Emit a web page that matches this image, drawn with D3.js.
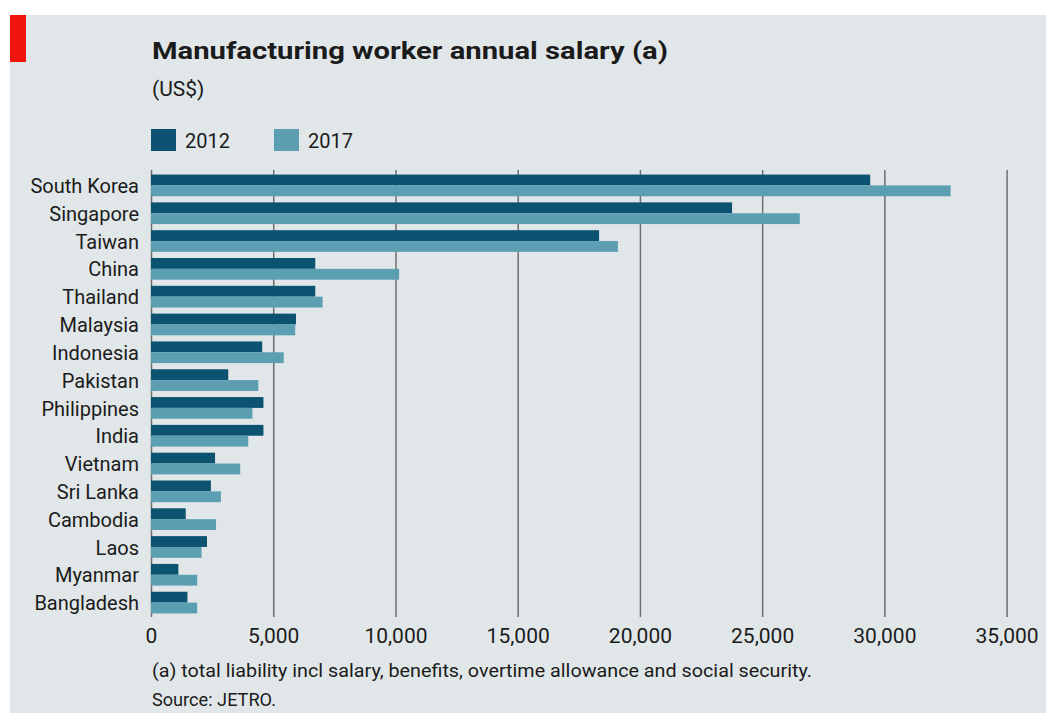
<!DOCTYPE html>
<html>
<head>
<meta charset="utf-8">
<script src="https://cdn.jsdelivr.net/npm/d3@7"></script>
<style>
  html, body { margin: 0; padding: 0; background: #ffffff; }
  svg { display: block; }
  text { font-family: Roboto, "Open Sans", sans-serif; fill: #1b1b1b; }
</style>
</head>
<body>
<svg id="chart" width="1046" height="713"></svg>
<script>
// Manufacturing worker annual salary, US$ (source: JETRO)
const countries = ["South Korea", "Singapore", "Taiwan", "China", "Thailand", "Malaysia",
  "Indonesia", "Pakistan", "Philippines", "India", "Vietnam", "Sri Lanka",
  "Cambodia", "Laos", "Myanmar", "Bangladesh"];
const salary2012 = [29420, 23770, 18330, 6720, 6720, 5930, 4550, 3160, 4600, 4600, 2620, 2450, 1420, 2290, 1120, 1490];
const salary2017 = [32710, 26540, 19100, 10150, 7020, 5900, 5430, 4390, 4150, 3980, 3650, 2860, 2660, 2070, 1890, 1890];
const seriesNames = ["2012", "2017"];
const xTicks = [0, 5000, 10000, 15000, 20000, 25000, 30000, 35000];

const colors = { "2012": "#0c5371", "2017": "#5d9fb2" };

const svg = d3.select("#chart");
const W = 1046, H = 713;

// panel background and red tag
svg.append("rect").attr("x", 10).attr("y", 15).attr("width", W - 10).attr("height", H - 15)
  .attr("fill", "#e1e7e9");
svg.append("rect").attr("x", 10).attr("y", 15).attr("width", 16).attr("height", 47)
  .attr("fill", "#f2150f");

// titles
svg.append("text").attr("x", 152).attr("y", 59)
  .attr("font-size", 24).attr("font-weight", 700)
  .attr("textLength", 516).attr("lengthAdjust", "spacingAndGlyphs")
  .text("Manufacturing worker annual salary (a)");
svg.append("text").attr("x", 152).attr("y", 96)
  .attr("font-size", 21)
  .text("(US$)");

// scales
const x = d3.scaleLinear().domain([0, 35000]).range([151, 1006.6]);
const y = d3.scaleBand().domain(countries).range([169, 619])
  .paddingInner(0.22).paddingOuter(0.2);
const ySub = d3.scaleBand().domain(seriesNames).range([0, y.bandwidth()]);

// legend
const legend = svg.append("g");
seriesNames.forEach((s, i) => {
  const lx = 151 + i * 123;
  legend.append("rect").attr("x", lx).attr("y", 129).attr("width", 25).attr("height", 22)
    .attr("fill", colors[s]);
  legend.append("text").attr("x", lx + 34).attr("y", 148).attr("font-size", 20).text(s);
});

// grid / axis
const gridTop = 170, gridBottom = 617;
const axis = d3.axisBottom(x).tickValues(xTicks).tickFormat(d3.format(","))
  .tickSize(-(gridBottom - gridTop)).tickPadding(0);
const gAxis = svg.append("g").attr("transform", `translate(0,${gridBottom})`).call(axis);
gAxis.select(".domain").remove();
gAxis.selectAll(".tick line").attr("stroke", "#6e6e6e").attr("stroke-width", 1.5);
gAxis.selectAll(".tick text")
  .attr("font-size", 21).attr("font-family", "Roboto, sans-serif")
  .attr("fill", "#1b1b1b").attr("y", 26).attr("dy", 0);

// bars
const rows = countries.map((c, i) => ({ country: c, values: { "2012": salary2012[i], "2017": salary2017[i] } }));
const gRows = svg.append("g").selectAll("g").data(rows).join("g")
  .attr("transform", d => `translate(0,${y(d.country)})`);
gRows.selectAll("rect").data(d => seriesNames.map(s => ({ s, v: d.values[s] }))).join("rect")
  .attr("x", x(0))
  .attr("y", d => ySub(d.s))
  .attr("width", d => x(d.v) - x(0))
  .attr("height", ySub.bandwidth())
  .attr("fill", d => colors[d.s]);

// country labels
svg.append("g").selectAll("text").data(countries).join("text")
  .attr("x", 139)
  .attr("y", d => y(d) + y.bandwidth() / 2)
  .attr("dy", "0.38em")
  .attr("text-anchor", "end")
  .attr("font-size", 20)
  .text(d => d);

// footnotes
svg.append("text").attr("x", 152).attr("y", 677)
  .attr("font-size", 18)
  .attr("textLength", 660).attr("lengthAdjust", "spacingAndGlyphs")
  .text("(a) total liability incl salary, benefits, overtime allowance and social security.");
svg.append("text").attr("x", 152).attr("y", 706)
  .attr("font-size", 18)
  .attr("textLength", 124).attr("lengthAdjust", "spacingAndGlyphs")
  .text("Source: JETRO.");
</script>
</body>
</html>
